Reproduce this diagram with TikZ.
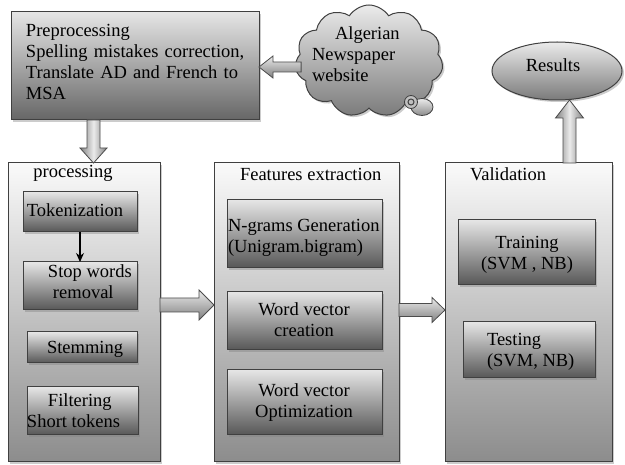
\documentclass[tikz,border=0pt]{standalone}
\usepackage{fontspec}
\setmainfont{Liberation Serif}
\usetikzlibrary{shapes.geometric,shapes.symbols,shadows,calc,arrows.meta}
\newcommand\harrow[6]{%
  \draw[#1] let \p1=#2, \p2=#3 in
    ({\x1},{\y1+#4}) -- ({\x2-(#6)},{\y1+#4}) -- ({\x2-(#6)},{\y1+#5}) -- ({\x2},{\y1})
    -- ({\x2-(#6)},{\y1-#5}) -- ({\x2-(#6)},{\y1-#4}) -- ({\x1},{\y1-#4}) -- cycle;}
\newcommand\varrow[6]{%
  \draw[#1] let \p1=#2, \p2=#3 in
    ({\x1+#4},{\y1}) -- ({\x1+#4},{\y2+(#6)}) -- ({\x1+#5},{\y2+(#6)}) -- ({\x1},{\y2})
    -- ({\x1-#5},{\y2+(#6)}) -- ({\x1-#4},{\y2+(#6)}) -- ({\x1-#4},{\y1}) -- cycle;}
\begin{document}
\begin{tikzpicture}[x=1pt,y=-1pt,
  every node/.style={font=\fontsize{18.5}{21}\selectfont, inner sep=0pt, outer sep=0pt},
  shad/.style={drop shadow={shadow xshift=2pt,shadow yshift=-2pt,opacity=0.4}},
  outerbox/.style={rectangle, draw=black!75, line width=1pt, top color=black!2, bottom color=black!45, shad},
  innerbox/.style={rectangle, draw=black!75, line width=1pt, top color=black!10, bottom color=black!66, shad},
  prebox/.style={rectangle, draw=black!75, line width=1pt, top color=black!10, bottom color=black!60, shad},
  roundshape/.style={draw=black!75, line width=1pt, top color=black!8, bottom color=black!52, shad},
  hblock/.style={draw=black!70, line width=0.8pt, top color=black!8, bottom color=black!50},
  vblock/.style={draw=black!70, line width=0.8pt, left color=black!50, right color=black!50, middle color=black!8},
  lbl/.style={text=black, align=left},
  clbl/.style={text=black, align=center}
]
\useasboundingbox[fill=white] (0,0) rectangle (625,465);

% main boxes
\node[prebox, minimum width=248pt, minimum height=108pt] (pre) at (135,66) {};
\node[outerbox, minimum width=152pt, minimum height=299pt] (proc) at (84,312.5) {};
\node[outerbox, minimum width=185pt, minimum height=299pt] (feat) at (306.5,312.5) {};
\node[outerbox, minimum width=167pt, minimum height=299pt] (val) at (528.5,312.5) {};

% inner boxes
\node[innerbox, minimum width=114pt, minimum height=40pt] (tok) at (80,212) {};
\node[innerbox, minimum width=114pt, minimum height=48pt] (stop) at (80,286) {};
\node[innerbox, minimum width=110pt, minimum height=31pt] (stem) at (82,347.5) {};
\node[innerbox, minimum width=111pt, minimum height=48pt] (filt) at (82.5,411) {};
\node[innerbox, minimum width=155pt, minimum height=68pt] (ngram) at (304.5,234) {};
\node[innerbox, minimum width=155pt, minimum height=58pt] (wvc) at (304.5,321) {};
\node[innerbox, minimum width=155pt, minimum height=65pt] (wvo) at (304.5,402.5) {};
\node[innerbox, minimum width=137pt, minimum height=65pt] (train) at (526.5,252.5) {};
\node[innerbox, minimum width=132pt, minimum height=56pt] (test) at (529,350) {};

% results ellipse
\node[ellipse, roundshape, minimum width=130pt, minimum height=58pt] (res) at (557,71) {};

% block arrows
\coordinate (a2s) at ($(pre.south west)+(82.5,0)$);
\coordinate (a3s) at ($(proc.east)+(0,-7.5)$);
\coordinate (a4s) at ($(feat.east)+(0,-2.5)$);
\coordinate (a5s) at ($(val.north west)+(124.5,0)$);
\varrow{vblock}{(a2s)}{(proc.north)}{6.5pt}{13.5pt}{15pt}
\harrow{hblock}{(a3s)}{(feat.west)}{7pt}{15pt}{15pt}
\harrow{hblock}{(a4s)}{(val.west)}{6.5pt}{12.5pt}{13pt}
\varrow{vblock}{(a5s)}{(res.south)}{6.5pt}{14pt}{-18pt}

% cloud
\node[cloud, cloud puffs=11, cloud puff arc=115, cloud ignores aspect, roundshape,
      minimum width=148pt, minimum height=112pt] (cloud) at (369,61) {};
\coordinate (a1s) at ($(cloud.west)+(5,6)$);
\harrow{hblock}{(a1s)}{(pre.east)}{5pt}{11pt}{-14pt}
\node[ellipse, draw=black!75, line width=0.8pt, top color=black!8, bottom color=black!45,
      minimum width=22pt, minimum height=17pt] (bubA) at (422,107) {};
\node[circle, draw=black!75, line width=0.8pt, fill=black!25, minimum size=13pt] (bubB) at (411,102) {};
\node[circle, draw=black!75, line width=1pt, minimum size=6pt] (bubC) at (bubB) {};

% thin arrow
\draw[-{Stealth[length=9pt,width=8pt]}, line width=1.3pt] (tok.south) -- (stop.north);

% texts (base anchor = baseline of the last line, or first line with text width)
\node[lbl, anchor=base west, text width=240pt] (pretext) at (26,37)
  {Preprocessing\\Spelling mistakes correction,\\\makebox[217pt][s]{Translate AD and French to}\\MSA};
\node[lbl, anchor=base west] (cloudtext) at (312,82) {\hspace*{23pt}Algerian\\Newspaper\\website};
\node[clbl, anchor=base] (restext) at (553,72) {Results};
\node[lbl, anchor=base] (proctitle) at (73,178) {processing};
\node[lbl, anchor=base] (toktext) at (75,217) {Tokenization};
\node[lbl, anchor=base west] (stoptext) at (48,299) {Stop words\\\hspace*{5pt}removal};
\node[lbl, anchor=base west] (stemtext) at (47,354) {Stemming};
\node[lbl, anchor=base west] (filttext) at (27,428) {\hspace*{21pt}Filtering\\Short tokens};
\node[lbl, anchor=base west] (feattitle) at (240,181) {Features extraction};
\node[lbl, anchor=base west] (ngramtext) at (228,253) {N-grams Generation\\(Unigram.bigram)};
\node[clbl, anchor=base] (wvctext) at (304,337) {Word vector\\creation};
\node[clbl, anchor=base] (wvotext) at (304,418) {Word vector\\Optimization};
\node[lbl, anchor=base west] (valtitle) at (470,181) {Validation};
\node[clbl, anchor=base] (traintext) at (527,270) {Training\\(SVM , NB)};
\node[lbl, anchor=base west] (testtext) at (487,367) {Testing\\(SVM, NB)};
\end{tikzpicture}
\end{document}
